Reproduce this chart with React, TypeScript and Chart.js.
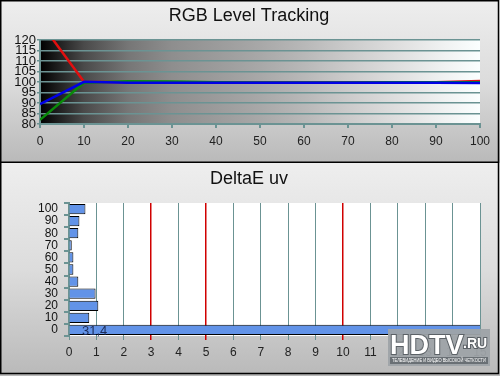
import React, { useEffect, useRef } from 'react';
import { Chart, registerables } from 'chart.js';

Chart.register(...registerables);

// ---- data ----
const levels = [0, 10, 20, 30, 40, 50, 60, 70, 80, 90, 100];
const redLevel = [128.6, 100.1, 99.9, 99.8, 99.8, 99.8, 99.8, 99.8, 99.9, 99.9, 100.5];
const greenLevel = [82, 99.6, 100.3, 100.2, 99.9, 99.8, 99.8, 99.8, 99.9, 99.9, 99.9];
const blueLevel = [89.5, 100.1, 99.6, 99.6, 99.7, 99.7, 99.7, 99.7, 99.6, 99.6, 99.5];

const deltaLabels = ['100', '90', '80', '70', '60', '50', '40', '30', '20', '10', '0'];
const deltaValues = [0.6, 0.38, 0.34, 0.1, 0.16, 0.16, 0.34, 0.97, 1.07, 0.74, 31.4];
const redLines = [3, 5, 10];

const FONT = "'Liberation Sans', Arial, sans-serif";
const TEAL = '#6b9393';

function panelPlugin(kind: 'top' | 'bottom', title: string) {
  return {
    id: 'panel_' + kind,
    beforeDraw(chart: any) {
      const { ctx, width, height, chartArea } = chart;
      ctx.save();
      const g = ctx.createLinearGradient(0, 0, 0, height);
      g.addColorStop(0, '#eeeeee');
      g.addColorStop(0.5, '#dcdcdc');
      g.addColorStop(1, '#b9b9b9');
      ctx.fillStyle = g;
      ctx.fillRect(0, 0, width, height);
      const { left, right, top, bottom } = chartArea;
      if (kind === 'top') {
        const h = ctx.createLinearGradient(left, 0, right, 0);
        h.addColorStop(0, '#000000');
        h.addColorStop(0.1, '#4a4a4a');
        h.addColorStop(0.2, '#767676');
        h.addColorStop(0.3, '#8e8e8e');
        h.addColorStop(0.5, '#a8a8a8');
        h.addColorStop(0.6, '#b8b8b8');
        h.addColorStop(0.7, '#cbcbcb');
        h.addColorStop(0.82, '#e0e0e0');
        h.addColorStop(0.92, '#f0f2f2');
        h.addColorStop(1, '#fbffff');
        ctx.fillStyle = h;
      } else {
        ctx.fillStyle = '#ffffff';
      }
      ctx.fillRect(left, top, right - left, bottom - top);
      ctx.restore();
    },
    afterDraw(chart: any) {
      const { ctx } = chart;
      ctx.save();
      ctx.fillStyle = '#111111';
      ctx.font = `18px ${FONT}`;
      ctx.textAlign = 'center';
      ctx.textBaseline = 'middle';
      ctx.fillText(title, 249, 16);
      ctx.strokeStyle = '#000000';
      ctx.lineWidth = 1.5;
      ctx.beginPath();
      if (kind === 'top') {
        ctx.moveTo(0.75, 0.75);
        ctx.lineTo(498.5, 0.75);
        ctx.lineTo(498.5, 162.25);
        ctx.lineTo(0.75, 162.25);
        ctx.closePath();
      } else {
        ctx.moveTo(0.75, 0);
        ctx.lineTo(0.75, 210.5);
        ctx.lineTo(498.5, 210.5);
        ctx.lineTo(498.5, 0);
      }
      ctx.stroke();
      ctx.restore();
    },
  };
}

const barLabelPlugin = {
  id: 'barLabel',
  afterDatasetsDraw(chart: any) {
    const { ctx } = chart;
    const meta = chart.getDatasetMeta(0);
    const xs = chart.scales.x;
    ctx.save();
    ctx.fillStyle = '#1c2b58';
    ctx.font = `13px ${FONT}`;
    ctx.textAlign = 'left';
    ctx.textBaseline = 'middle';
    deltaValues.forEach((v, i) => {
      if (v > xs.max) {
        ctx.fillText(String(v).replace('.', ','), xs.getPixelForValue(0) + 13, meta.data[i].y + 1);
      }
    });
    ctx.restore();
  },
};

const watermarkPlugin = {
  id: 'watermark',
  afterDraw(chart: any) {
    const { ctx } = chart;
    const x0 = 388, y0 = 166, w = 102, h = 37;
    ctx.save();
    ctx.fillStyle = 'rgba(158,163,168,0.95)';
    ctx.fillRect(x0, y0, w, h);
    ctx.fillStyle = '#6a7075';
    ctx.fillRect(x0 + 2, y0 + 28, w - 4, 7);
    ctx.font = `bold 27px ${FONT}`;
    ctx.textBaseline = 'alphabetic';
    ctx.textAlign = 'left';
    ctx.lineWidth = 2;
    ctx.strokeStyle = '#5b6166';
    ctx.strokeText('HDTV', x0 + 2, y0 + 25);
    ctx.fillStyle = '#ffffff';
    ctx.fillText('HDTV', x0 + 2, y0 + 25);
    ctx.font = `bold 14px ${FONT}`;
    ctx.strokeText('.RU', x0 + 75, y0 + 19);
    ctx.fillText('.RU', x0 + 75, y0 + 19);
    ctx.font = `5px ${FONT}`;
    ctx.fillStyle = '#ffffff';
    ctx.textBaseline = 'middle';
    ctx.fillText('ТЕЛЕВИДЕНИЕ И ВИДЕО ВЫСОКОЙ ЧЕТКОСТИ', x0 + 4, y0 + 31.5, w - 8);
    ctx.restore();
  },
};

export default function App() {
  const topRef = useRef<HTMLCanvasElement>(null);
  const botRef = useRef<HTMLCanvasElement>(null);

  useEffect(() => {
    const mk = (arr: number[]) => levels.map((x, i) => ({ x, y: arr[i] }));
    const top = new Chart(topRef.current as HTMLCanvasElement, {
      type: 'line',
      data: {
        datasets: [
          { label: 'Blue', data: mk(blueLevel), borderColor: '#0000e6', borderWidth: 2.5, pointRadius: 0, tension: 0 },
          { label: 'Green', data: mk(greenLevel), borderColor: '#0a8a0a', borderWidth: 2.5, pointRadius: 0, tension: 0 },
          { label: 'Red', data: mk(redLevel), borderColor: '#e01010', borderWidth: 2.5, pointRadius: 0, tension: 0 },
        ],
      },
      options: {
        responsive: false,
        animation: false,
        devicePixelRatio: 1,
        layout: { padding: { top: 40, right: 20, left: 0, bottom: 0 } },
        plugins: { legend: { display: false }, tooltip: { enabled: false }, title: { display: false } },
        scales: {
          x: {
            type: 'linear',
            min: 0,
            max: 100,
            ticks: { stepSize: 10, autoSkip: false, color: '#222', font: { family: FONT, size: 12 }, padding: 6, maxRotation: 0 },
            grid: { drawOnChartArea: false, color: TEAL, lineWidth: 2, tickLength: 4 },
            border: { color: TEAL, width: 2 },
            afterFit: (s: any) => { s.height = 39; },
          },
          y: {
            type: 'linear',
            min: 80,
            max: 120,
            ticks: { stepSize: 5, autoSkip: false, color: '#111', font: { family: FONT, size: 13, lineHeight: 1 }, padding: 1 },
            grid: { color: TEAL, lineWidth: 1.5, tickLength: 3 },
            border: { color: TEAL, width: 2 },
            afterFit: (s: any) => { s.width = 40; },
          },
        },
      },
      plugins: [panelPlugin('top', 'RGB Level Tracking')],
    } as any);

    const bot = new Chart(botRef.current as HTMLCanvasElement, {
      type: 'bar',
      data: {
        labels: deltaLabels,
        datasets: [
          {
            label: 'DeltaE uv',
            data: deltaValues,
            backgroundColor: '#6293e8',
            borderColor: '#000000',
            borderWidth: 1,
            barPercentage: 0.85,
            categoryPercentage: 1,
          },
        ],
      },
      options: {
        indexAxis: 'y',
        responsive: false,
        animation: false,
        devicePixelRatio: 1,
        layout: { padding: { top: 40, right: 20, left: 0, bottom: 0 } },
        plugins: { legend: { display: false }, tooltip: { enabled: false }, title: { display: false } },
        scales: {
          x: {
            type: 'linear',
            min: 0,
            max: 15,
            ticks: { stepSize: 1, autoSkip: false, color: '#222', font: { family: FONT, size: 12 }, padding: 5, maxRotation: 0 },
            grid: {
              color: (c: any) => (c.tick && redLines.includes(c.tick.value) ? '#d00000' : TEAL),
              lineWidth: (c: any) => (c.tick && redLines.includes(c.tick.value) ? 1.5 : 1),
              tickLength: 4,
            },
            border: { display: false },
            afterFit: (s: any) => { s.height = 40; },
          },
          y: {
            ticks: { autoSkip: false, color: '#111', font: { family: FONT, size: 12, lineHeight: 1 }, padding: 6 },
            grid: { drawOnChartArea: false, color: TEAL, lineWidth: 2, tickLength: 5 },
            border: { color: TEAL, width: 2 },
            afterFit: (s: any) => { s.width = 69; },
          },
        },
      },
      plugins: [panelPlugin('bottom', 'DeltaE uv'), barLabelPlugin, watermarkPlugin],
    } as any);

    return () => {
      top.destroy();
      bot.destroy();
    };
  }, []);

  return (
    <div style={{ position: 'absolute', left: 0, top: 0, width: 500, height: 376, background: '#bdbdbd' }}>
      <canvas ref={topRef} width={500} height={163} style={{ display: 'block', width: 500, height: 163 }} />
      <canvas ref={botRef} width={500} height={213} style={{ display: 'block', width: 500, height: 213 }} />
    </div>
  );
}
